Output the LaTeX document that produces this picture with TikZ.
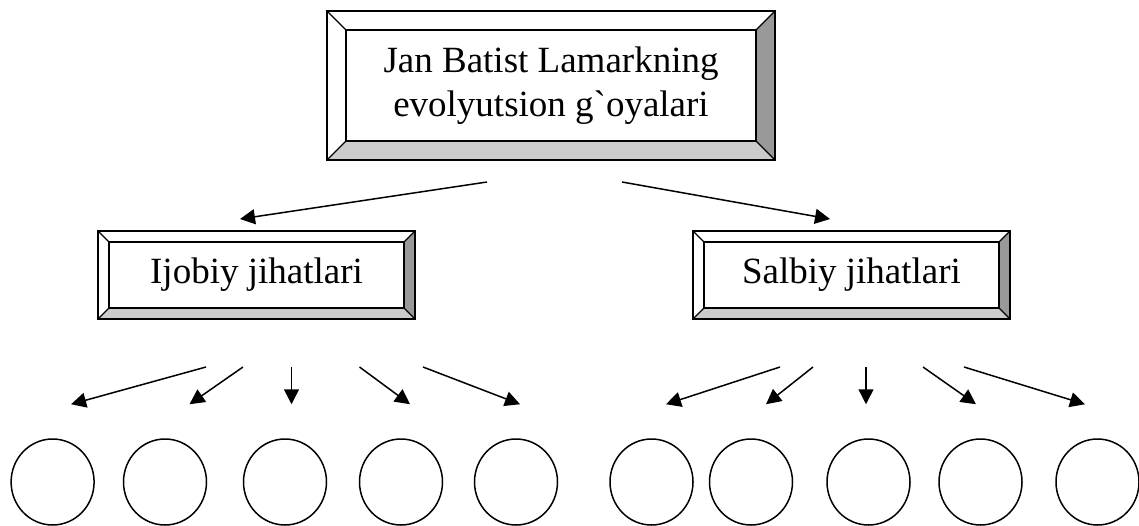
\documentclass[tikz,border=0pt]{standalone}
\usepackage{fontspec}
\setmainfont{Liberation Serif}[Ligatures=TeXOff]
\usepackage{tikz}
\usetikzlibrary{arrows.meta, shapes.geometric, calc}
\usepackage{xcolor}
\definecolor{bevellight}{RGB}{204, 204, 204}
\definecolor{beveldark}{RGB}{153, 153, 153}

% sloped frame drawn round a named node, #2 = bevel size
\newcommand{\bevelframe}[2]{%
    \fill[beveldark] (#1.north east) -- (#1.south east)
        -- ([shift={(-#2,#2)}]#1.south east) -- ([shift={(-#2,-#2)}]#1.north east) -- cycle;
    \fill[bevellight] (#1.south west) -- (#1.south east)
        -- ([shift={(-#2,#2)}]#1.south east) -- ([shift={(#2,#2)}]#1.south west) -- cycle;
    \draw[line width=1.3pt] ([shift={(#2,-#2)}]#1.north west) rectangle ([shift={(-#2,#2)}]#1.south east);
    \draw[line width=1.1pt] (#1.north west) -- ([shift={(#2,-#2)}]#1.north west)
        (#1.north east) -- ([shift={(-#2,-#2)}]#1.north east)
        (#1.south east) -- ([shift={(-#2,#2)}]#1.south east)
        (#1.south west) -- ([shift={(#2,#2)}]#1.south west);
    \draw[line width=2pt] (#1.north west) rectangle (#1.south east);
}

\begin{document}
\begin{tikzpicture}[
    x=1pt, y=-1pt,
    bevel/.style={rectangle, inner sep=0pt, outer sep=0pt, align=center,
        font=\fontsize{37}{44}\selectfont},
    ring/.style={ellipse, draw, line width=1.5pt, minimum width=83pt, minimum height=86pt, inner sep=0pt},
    arr/.style={-{Triangle[length=15pt,width=15pt]}, line width=1.5pt}
]
    \useasboundingbox (0,0) rectangle (1139,526);

    \node[bevel, minimum width=448pt, minimum height=149pt] (lamark) at (551,85.5)
        {Jan Batist Lamarkning\\evolyutsion g`oyalari};
    \bevelframe{lamark}{19pt}
    \node[bevel, minimum width=317pt, minimum height=88pt] (ijobiy) at (256.5,275) {Ijobiy jihatlari};
    \bevelframe{ijobiy}{11pt}
    \node[bevel, minimum width=317pt, minimum height=88pt] (salbiy) at (851.5,275) {Salbiy jihatlari};
    \bevelframe{salbiy}{11pt}

    \foreach \i/\x in {1/52.6, 2/165, 3/285, 4/401, 5/516, 6/651.5, 7/751, 8/868.5, 9/980.5, 10/1097.5}
        \node[ring] (c\i) at (\x,482) {};

    \draw[arr] ([shift={(-64pt,-22pt)}]lamark.south) -- ([shift={(-16.5pt,12pt)}]ijobiy.north);
    \draw[arr] ([shift={(71pt,-22pt)}]lamark.south) -- ([shift={(-21.5pt,12pt)}]salbiy.north);

    \foreach \i/\a/\b in {1/-50.5/18.5, 2/-13.5/24.5, 3/35/6.5, 4/103/9, 5/166.5/4}
        \draw[arr] ([shift={(\a pt,-48pt)}]ijobiy.south) -- ([shift={(\b pt,34pt)}]c\i.north);
    \foreach \i/\a/\b in {6/-71.5/14.5, 7/-38.5/15, 8/14.5/-2.5, 9/71.5/-4.5, 10/112.5/-12.5}
        \draw[arr] ([shift={(\a pt,-48pt)}]salbiy.south) -- ([shift={(\b pt,34pt)}]c\i.north);
\end{tikzpicture}
\end{document}
